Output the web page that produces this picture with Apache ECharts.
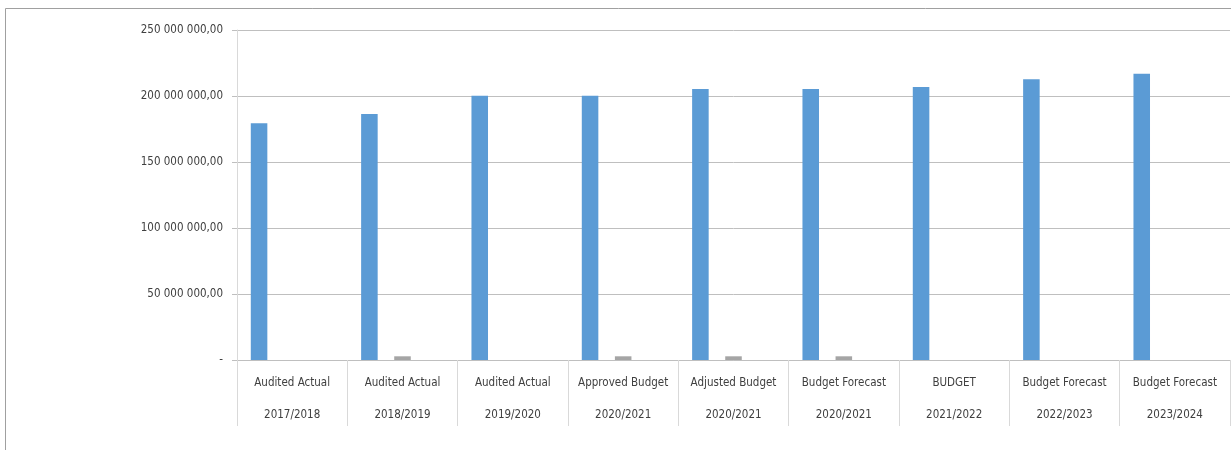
<!DOCTYPE html>
<html>
<head>
<meta charset="utf-8">
<script src="https://cdn.jsdelivr.net/npm/echarts@6/dist/echarts.min.js"></script>
<style>
  html, body { margin: 0; padding: 0; background: #fff; }
  #chart { width: 1231px; height: 450px; }
</style>
</head>
<body>
<div id="chart"></div>
<script>
const typeLabels = ['Audited Actual', 'Audited Actual', 'Audited Actual', 'Approved Budget', 'Adjusted Budget', 'Budget Forecast', 'BUDGET', 'Budget Forecast', 'Budget Forecast'];
const yearLabels = ['2017/2018', '2018/2019', '2019/2020', '2020/2021', '2020/2021', '2020/2021', '2021/2022', '2022/2023', '2023/2024'];
const blueValues = [179300000, 186400000, 200200000, 200200000, 205300000, 205300000, 206800000, 212600000, 216900000];
const grayValues = [null, 2800000, null, 2800000, 2800000, 2800000, null, null, null];
const yTicks = { min: 0, max: 250000000, interval: 50000000 };

const categories = typeLabels.map((t, i) => t + '|' + yearLabels[i]);

function fmtY(v) {
  if (v === 0) return '-';
  const s = Math.round(v).toString().replace(/\B(?=(\d{3})+(?!\d))/g, ' ');
  return s + ',00';
}

const chart = echarts.init(document.getElementById('chart'), null, { renderer: 'canvas' });
const fontFamily = '"Liberation Sans Narrow", "DejaVu Sans Condensed", "Roboto", sans-serif';

chart.setOption({
  animation: false,
  backgroundColor: '#ffffff',
  textStyle: { fontFamily: fontFamily },
  graphic: [{
    type: 'rect',
    shape: { x: 5.5, y: 8.5, width: 1400, height: 600 },
    style: { fill: 'none', stroke: '#a0a0a0', lineWidth: 1 },
    silent: true,
    z: -10
  }],
  grid: { left: 237, right: 1, top: 30, bottom: 90, containLabel: false },
  xAxis: {
    type: 'category',
    data: categories,
    axisLine: { show: true, lineStyle: { color: '#bfbfbf', width: 1 } },
    axisTick: { show: true, interval: 0, length: 66, alignWithLabel: false, lineStyle: { color: '#d9d9d9' } },
    axisLabel: {
      interval: 0,
      margin: 7,
      formatter: function (v) {
        const p = v.split('|');
        return '{a|' + p[0] + '}\n{a|' + p[1] + '}';
      },
      rich: {
        a: { fontFamily: fontFamily, fontSize: 11.5, color: '#404040', lineHeight: 32 }
      }
    },
    splitLine: { show: false }
  },
  yAxis: {
    type: 'value',
    min: yTicks.min,
    max: yTicks.max,
    interval: yTicks.interval,
    axisLine: { show: true, lineStyle: { color: '#d9d9d9', width: 1 } },
    axisTick: { show: true, length: 5, lineStyle: { color: '#bfbfbf' } },
    axisLabel: { margin: 14, fontFamily: fontFamily, fontSize: 11.5, color: '#404040', formatter: fmtY },
    splitLine: { show: true, lineStyle: { color: '#bfbfbf', width: 1 } }
  },
  series: [
    { name: 'Series 1', type: 'bar', data: blueValues, itemStyle: { color: '#5b9bd5' }, barGap: '0%', barCategoryGap: '25%' },
    { name: 'Series 2', type: 'bar', data: [], itemStyle: { color: '#ed7d31' } },
    { name: 'Series 3', type: 'bar', data: grayValues, itemStyle: { color: '#a5a5a5' } },
    { name: 'Series 4', type: 'bar', data: [], itemStyle: { color: '#ffc000' } },
    { name: 'Series 5', type: 'bar', data: [], itemStyle: { color: '#4472c4' } }
  ]
});
</script>
</body>
</html>
